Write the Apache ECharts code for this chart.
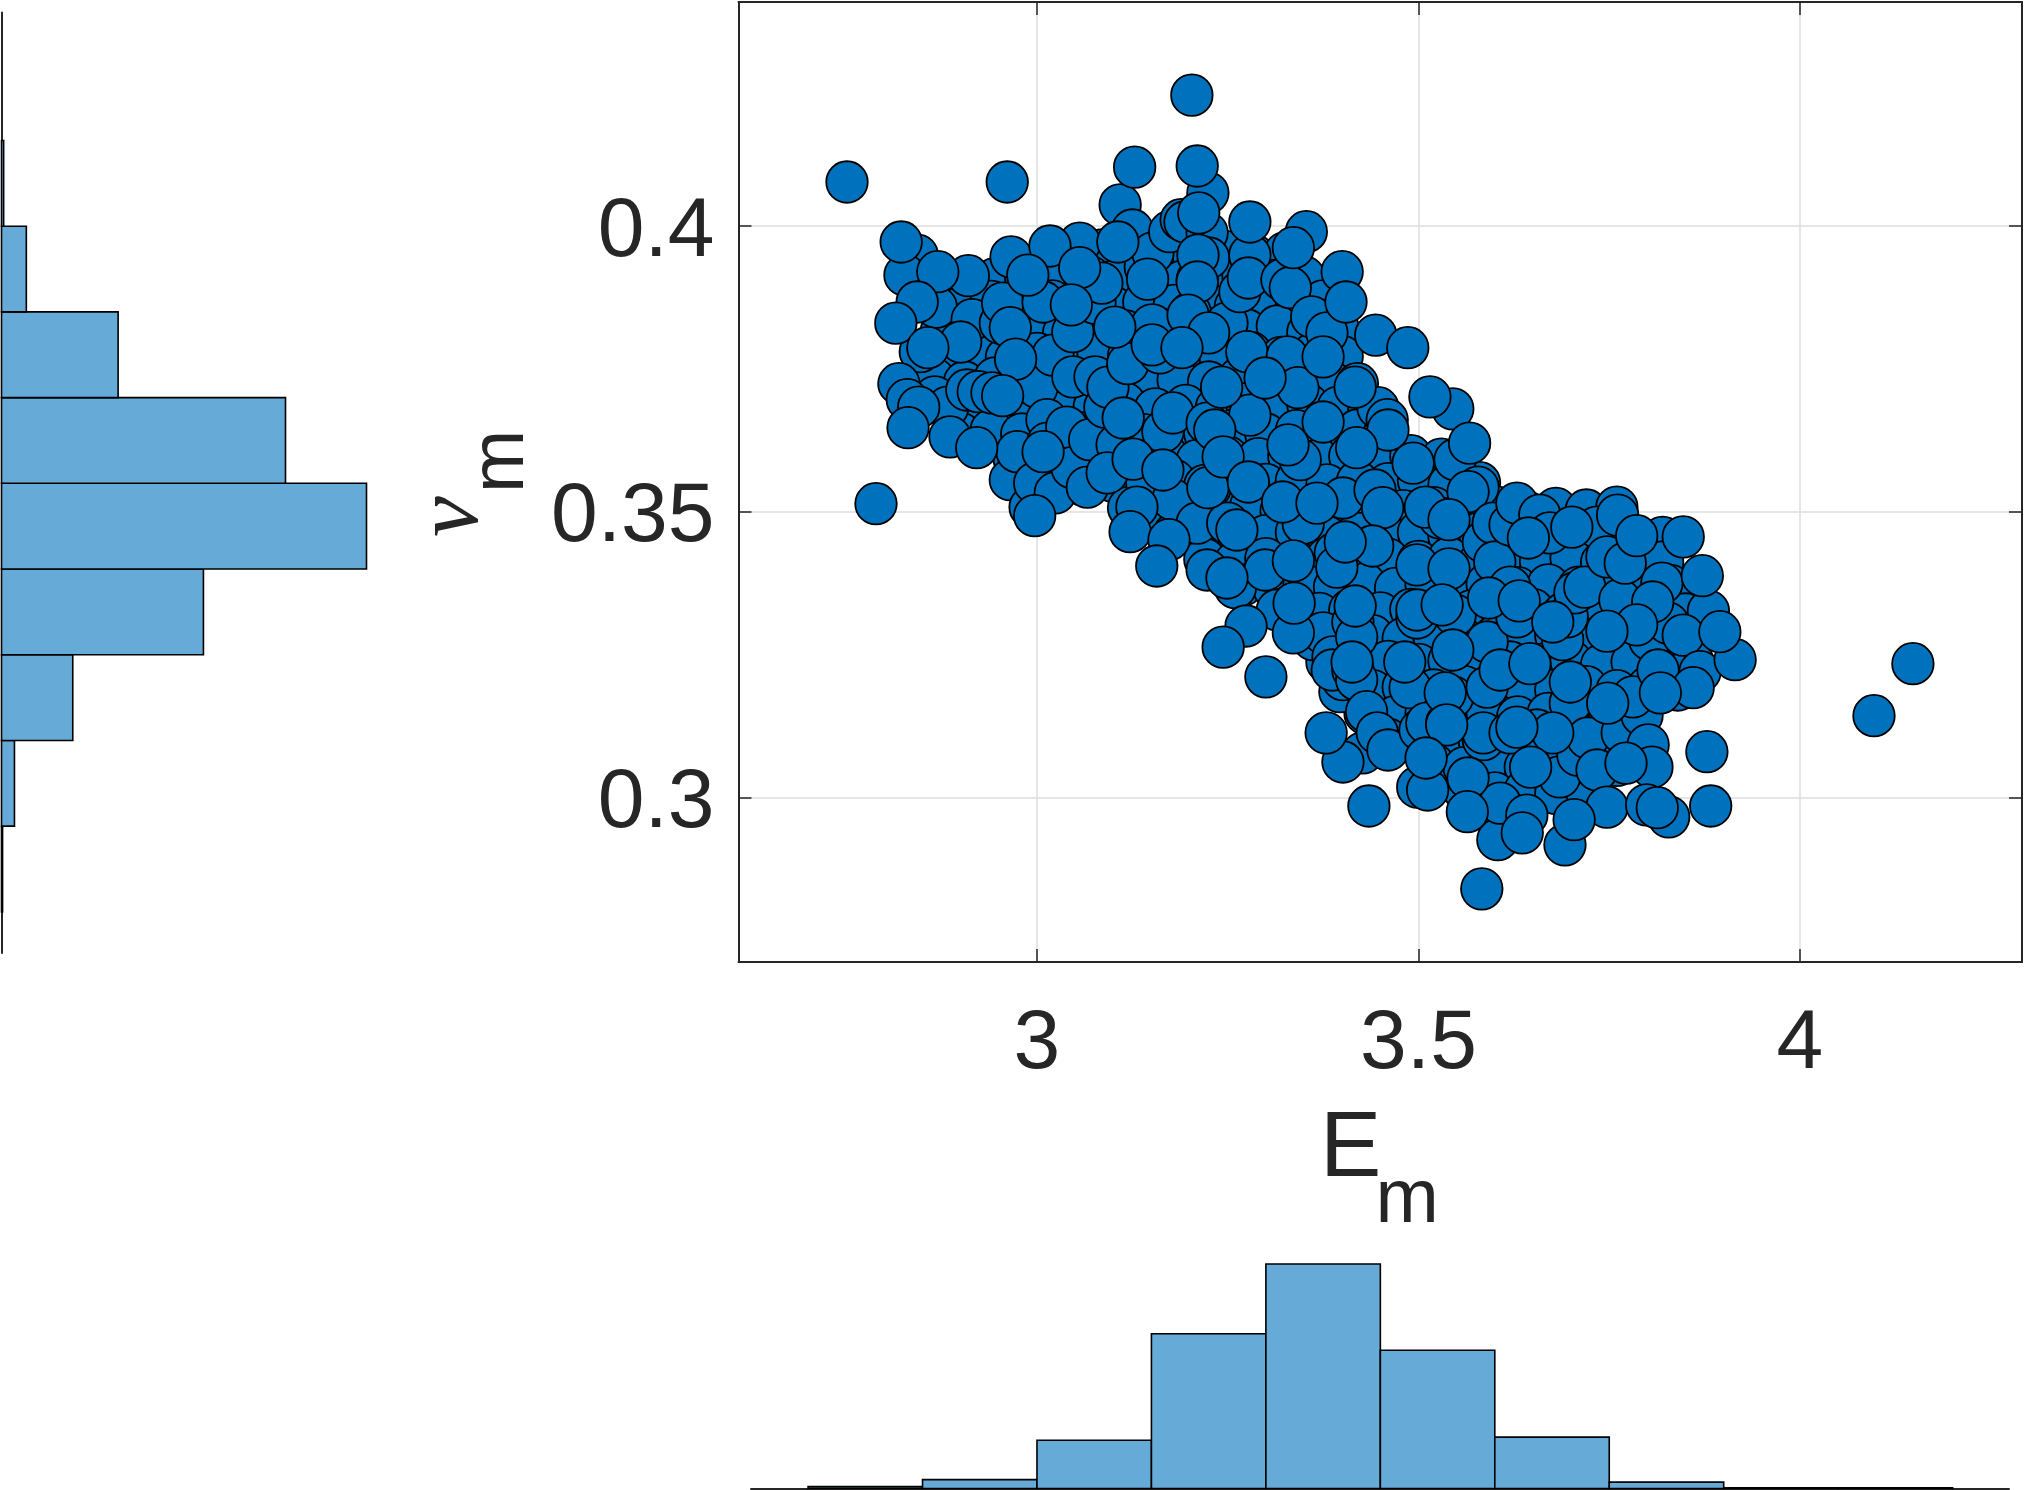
<!DOCTYPE html>
<html><head><meta charset="utf-8">
<style>html,body{margin:0;padding:0;background:#fff}#c{width:2024px;height:1490px}</style>
<script src="https://cdn.jsdelivr.net/npm/echarts@6/dist/echarts.min.js"></script>
</head><body><div id="c"></div>
<script>
var xTicks=[3,3.5,4];
var yTicks=[0.3,0.35,0.4];
// E_m histogram: bin edges and counts
var emEdges=[2.7,2.85,3.0,3.15,3.3,3.45,3.6,3.75,3.9,4.05,4.2];
var emCounts=[3,14,76,244,354,218,81,10,1,1];
// nu_m histogram: bin edges and counts
var nuEdges=[0.28,0.295,0.31,0.325,0.34,0.355,0.37,0.385,0.4,0.415];
var nuCounts=[1,12,66,187,338,263,108,23,2];
// samples buried in the dense core (estimated)
var samplesCore=[
[3.04,.3952],[3.085,.3958],[3.12,.3947],[3.165,.3955],[3.205,.3949],[3.245,.3956],[3.285,.3948],[3.325,.3953],
[2.945,.3908],[2.985,.3912],[3.025,.3904],[3.07,.3911],[3.105,.3906],[3.15,.3913],[3.19,.3903],[3.23,.3909],[3.27,.3914],[3.31,.3905],[3.35,.3911],
[2.905,.3862],[2.94,.3868],[2.98,.3861],[3.02,.3869],[3.06,.3864],[3.10,.3858],[3.14,.3867],[3.18,.3861],[3.22,.3868],[3.26,.3859],[3.30,.3866],[3.34,.3862],[3.375,.3869],
[2.875,.3818],[2.915,.3824],[2.955,.3816],[2.995,.3822],[3.035,.3813],[3.075,.3821],[3.115,.3817],[3.155,.3824],[3.195,.3815],[3.235,.3821],[3.275,.3818],[3.315,.3825],[3.355,.3814],[3.395,.3820],
[2.875,.3772],[2.92,.3778],[2.96,.3770],[3.0,.3777],[3.04,.3771],[3.08,.3779],[3.12,.3773],[3.16,.3769],[3.20,.3777],[3.24,.3772],[3.28,.3779],[3.32,.3770],[3.36,.3775],[3.40,.3772],
[2.865,.3733],[2.905,.3727],[2.945,.3734],[2.985,.3726],[3.025,.3732],[3.065,.3728],[3.105,.3735],[3.145,.3725],[3.185,.3731],[3.225,.3727],[3.265,.3734],[3.305,.3726],[3.345,.3733],[3.385,.3728],[3.42,.3724],
[2.875,.3688],[2.915,.3682],[2.955,.3689],[2.995,.3681],[3.035,.3687],[3.075,.3683],[3.115,.3690],[3.155,.3680],[3.195,.3686],[3.235,.3682],[3.275,.3689],[3.315,.3681],[3.355,.3688],[3.395,.3683],[3.435,.3679],
[2.90,.3637],[2.94,.3643],[2.98,.3636],[3.02,.3644],[3.06,.3638],[3.10,.3642],[3.14,.3635],[3.18,.3641],[3.22,.3637],[3.26,.3644],[3.30,.3636],[3.34,.3642],[3.38,.3638],[3.42,.3643],[3.455,.3636],
[2.97,.3593],[3.01,.3598],[3.05,.3591],[3.09,.3597],[3.13,.3592],[3.17,.3599],[3.21,.3590],[3.25,.3596],[3.29,.3593],[3.33,.3598],[3.37,.3591],[3.41,.3597],[3.45,.3592],[3.49,.3598],[3.53,.3592],
[3.02,.3552],[3.06,.3547],[3.10,.3553],[3.14,.3548],[3.18,.3555],[3.22,.3546],[3.26,.3552],[3.30,.3548],[3.34,.3554],[3.38,.3547],[3.42,.3553],[3.46,.3549],[3.50,.3555],[3.54,.3547],[3.58,.3551],
[3.12,.3507],[3.16,.3502],[3.20,.3508],[3.24,.3503],[3.28,.3509],[3.32,.3501],[3.36,.3507],[3.40,.3503],[3.44,.3509],[3.48,.3502],[3.52,.3507],[3.56,.3503],[3.60,.3509],[3.64,.3501],[3.68,.3506],[3.72,.3503],[3.76,.3508],
[3.18,.3462],[3.22,.3457],[3.26,.3463],[3.30,.3458],[3.34,.3464],[3.38,.3456],[3.42,.3462],[3.46,.3458],[3.50,.3464],[3.54,.3457],[3.58,.3463],[3.62,.3458],[3.66,.3464],[3.70,.3456],[3.74,.3462],[3.78,.3458],[3.82,.3455],
[3.22,.3417],[3.26,.3412],[3.30,.3418],[3.34,.3413],[3.38,.3419],[3.42,.3411],[3.46,.3417],[3.50,.3413],[3.54,.3419],[3.58,.3412],[3.62,.3417],[3.66,.3413],[3.70,.3419],[3.74,.3411],[3.78,.3417],[3.82,.3412],
[3.27,.3372],[3.31,.3367],[3.35,.3373],[3.39,.3368],[3.43,.3374],[3.47,.3366],[3.51,.3372],[3.55,.3368],[3.59,.3374],[3.63,.3367],[3.67,.3372],[3.71,.3368],[3.75,.3374],[3.79,.3366],[3.83,.3371],
[3.33,.3327],[3.37,.3322],[3.41,.3328],[3.45,.3323],[3.49,.3329],[3.53,.3321],[3.57,.3327],[3.61,.3323],[3.65,.3329],[3.69,.3322],[3.73,.3327],[3.77,.3323],[3.81,.3329],[3.85,.3321],[3.88,.3326],
[3.36,.3282],[3.40,.3277],[3.44,.3283],[3.48,.3278],[3.52,.3284],[3.56,.3276],[3.60,.3282],[3.64,.3278],[3.68,.3284],[3.72,.3277],[3.76,.3282],[3.80,.3278],[3.84,.3283],
[3.38,.3237],[3.42,.3232],[3.46,.3238],[3.50,.3233],[3.54,.3239],[3.58,.3231],[3.62,.3237],[3.66,.3233],[3.70,.3239],[3.74,.3232],[3.78,.3237],[3.82,.3233],[3.86,.3236],
[3.40,.3192],[3.44,.3187],[3.48,.3193],[3.52,.3188],[3.56,.3194],[3.60,.3186],[3.64,.3192],[3.68,.3188],[3.72,.3194],[3.76,.3187],[3.80,.3192],[3.84,.3188],
[3.43,.3147],[3.47,.3142],[3.51,.3148],[3.55,.3143],[3.59,.3149],[3.63,.3141],[3.67,.3147],[3.71,.3143],[3.75,.3149],[3.79,.3142],
[3.46,.3102],[3.50,.3097],[3.54,.3103],[3.58,.3098],[3.62,.3104],[3.66,.3096],[3.70,.3102],[3.74,.3098],[3.78,.3104],
[3.52,.3058],[3.56,.3052],[3.60,.3057],[3.64,.3053],[3.68,.3059],[3.72,.3051],[3.76,.3056],
[3.56,.3012],[3.60,.3008],[3.64,.3013],[3.68,.3007],[3.72,.3012]
];
// samples partly hidden by others
var samplesBehind=[
[2.843,.3949],[2.827,.3914],[2.868,.3858],[2.847,.3780],[2.866,.3701],[2.883,.3683],[2.886,.3631],[2.908,.3713],[2.915,.3836],[2.923,.3710],[2.941,.3708],[2.952,.3830],[2.955,.3865],[2.966,.3946],[2.965,.3556],[2.974,.3605],[2.991,.3508],[2.997,.3550],[3.008,.3867],[3.000,.3718],[3.013,.3661],[3.014,.3620],[3.021,.3774],[3.024,.3533],[3.039,.3648],[3.046,.3577],[3.047,.3815],[3.047,.3736],[3.056,.3970],[3.066,.3543],[3.069,.3626],[3.076,.3865],[3.076,.3736],[3.085,.3900],[3.089,.3683],[3.093,.3718],[3.105,.3617],[3.109,.4037],[3.125,.3993],[3.119,.3759],[3.142,.3928],[3.144,.3550],[3.152,.3953],[3.152,.3626],[3.165,.3640],[3.161,.3778],[3.151,.3827],[3.178,.3673],[3.178,.3521],[3.174,.3990],[3.189,.4011],[3.194,.4007],[3.131,.3508],[3.210,.3480],[3.201,.3848],[3.210,.3906],[3.223,.3988],[3.224,.4058],[3.223,.3655],[3.223,.3398],[3.227,.3542],[3.225,.3944],[3.249,.3830],[3.250,.3480],[3.260,.3367],[3.266,.3885],[3.275,.3780],[3.279,.3949],[3.277,.3909],[3.279,.3669],[3.299,.3398],[3.315,.3328],[3.321,.3906],[3.332,.3892],[3.328,.3771],[3.342,.3717],[3.345,.3591],[3.349,.3480],[3.353,.3990],[3.360,.3841],[3.380,.3813],[3.375,.3771],[3.362,.3276],[3.375,.3288],[3.336,.3288],[3.388,.3246],[3.391,.3428],[3.393,.3403],[3.401,.3524],[3.397,.3185],[3.401,.3206],[3.387,.3223],[3.414,.3223],[3.419,.3206],[3.414,.3307],[3.419,.3281],[3.417,.3335],[3.427,.3078],[3.432,.3150],[3.446,.3113],[3.460,.3083],[3.443,.3538],[3.447,.3682],[3.459,.3661],[3.460,.3643],[3.493,.3585],[3.489,.3192],[3.498,.3314],[3.498,.3328],[3.502,.3118],[3.499,.3018],[3.512,.3013],[3.528,.3489],[3.511,.3130],[3.537,.3130],[3.545,.3176],[3.548,.3319],[3.548,.3591],[3.545,.3680],[3.578,.3543],[3.565,.3535],[3.585,.3447],[3.585,.3101],[3.590,.3272],[3.590,.3193],[3.585,.3113],[3.598,.3480],[3.600,.3412],[3.604,.2926],[3.607,.2990],[3.620,.3477],[3.620,.3368],[3.620,.3113],[3.629,.3515],[3.629,.3316],[3.642,.2969],[3.659,.3494],[3.655,.3118],[3.672,.3463],[3.689,.3276],[3.685,.3036],[3.695,.3316],[3.699,.3165],[3.692,.2917],[3.705,.3358],[3.718,.3368],[3.709,.3074],[3.722,.3104],[3.734,.3473],[3.734,.3048],[3.747,.3421],[3.761,.3494],[3.764,.3346],[3.767,.3113],[3.793,.3144],[3.781,.3176],[3.803,.3276],[3.801,.3092],[3.806,.3053],[3.814,.3223],[3.819,.3375],[3.827,.3305],[3.828,.2966],[3.847,.3284],[3.869,.3220],[3.915,.3241]
];
// samples on top
var samplesFront=[
[2.751,.4077],[2.961,.4077],[3.203,.4229],[3.128,.4103],[3.210,.4105],[3.212,.4023],[2.822,.3972],[3.106,.3972],[3.017,.3965],[2.910,.3913],[2.870,.3920],[2.843,.3867],[2.815,.3830],[2.988,.3914],[3.056,.3927],[3.145,.3907],[3.211,.3949],[3.279,.4007],[3.336,.3962],[3.400,.3920],[3.405,.3867],[3.444,.3809],[3.486,.3787],[3.515,.3701],[3.567,.3620],[3.210,.3902],[3.045,.3862],[3.102,.3823],[3.198,.3844],[3.225,.3813],[3.151,.3792],[3.190,.3787],[2.965,.3822],[2.972,.3767],[2.900,.3797],[2.857,.3787],[2.819,.3724],[2.830,.3696],[2.845,.3683],[2.831,.3647],[2.921,.3612],[2.955,.3703],[2.789,.3514],[3.008,.3605],[2.997,.3493],[3.092,.3568],[3.126,.3592],[3.165,.3573],[3.113,.3664],[3.224,.3542],[3.242,.3718],[3.233,.3643],[3.244,.3596],[3.277,.3552],[3.299,.3734],[3.329,.3617],[3.375,.3657],[3.417,.3718],[3.419,.3612],[3.322,.3517],[3.367,.3515],[3.453,.3507],[3.509,.3508],[3.540,.3486],[3.440,.3440],[3.404,.3447],[3.336,.3414],[3.262,.3468],[3.122,.3465],[3.173,.3451],[3.157,.3405],[3.249,.3384],[3.337,.3340],[3.274,.3300],[3.244,.3263],[3.300,.3211],[3.413,.3237],[3.498,.3407],[3.540,.3400],[3.531,.3337],[3.545,.3258],[3.482,.3237],[3.535,.3183],[3.592,.3349],[3.632,.3344],[3.644,.3454],[3.701,.3473],[3.771,.3410],[3.786,.3458],[3.847,.3456],[3.872,.3388],[3.807,.3342],[3.786,.3302],[3.747,.3291],[3.895,.3290],[3.860,.3192],[3.817,.3183],[3.748,.3165],[3.699,.3202],[3.676,.3307],[3.607,.3223],[3.646,.3234],[3.537,.3127],[3.676,.3113],[3.629,.3123],[3.510,.3069],[3.565,.3034],[3.647,.3053],[3.772,.3060],[3.878,.3080],[3.564,.2975],[3.435,.2985],[3.401,.3062],[3.379,.3113],[3.747,.2983],[3.799,.2987],[3.813,.2982],[3.883,.2985],[3.704,.2961],[3.636,.2938],[3.583,.2840],[4.097,.3143],[4.148,.3234]
];
var allSamples=samplesCore.concat(samplesBehind,samplesFront);

var ink='#262626', barFill='#66AAD7';
function toRows(edges,counts){return counts.map(function(c,i){return [edges[i],edges[i+1],c];});}
function makeRenderer(horizontal){
  return function(params,api){
    var a=api.value(0),b=api.value(1),c=api.value(2);
    var p0=horizontal?api.coord([0,a]):api.coord([a,0]);
    var p1=horizontal?api.coord([c,b]):api.coord([b,c]);
    return {type:'rect',
      shape:{x:Math.min(p0[0],p1[0]),y:Math.min(p0[1],p1[1]),width:Math.abs(p1[0]-p0[0]),height:Math.abs(p1[1]-p0[1])},
      style:{fill:barFill,stroke:'#000',lineWidth:1.6}};
  };
}
var X0=2.6088,X1=4.2910,Y0=0.2712,Y1=0.4392;
var font='"Liberation Sans",Arial,sans-serif';
var serif='"Liberation Serif",serif';
function label(text,x,y,size,family,italic,rot){
  return {type:'text',x:x,y:y,rotation:rot?Math.PI/2:0,z:10,
    style:{text:text,fontFamily:family,fontSize:size,fontStyle:italic?'italic':'normal',fill:ink,align:'left',verticalAlign:'middle'}};
}
var option={
  animation:false,backgroundColor:'#fff',
  grid:[
    {left:738.5,top:2,width:1283.5,height:960},
    {left:751,top:1264,width:1258,height:224.5},
    {left:1.5,top:12.5,width:365,height:940.5}
  ],
  graphic:[
    label('E',1320,1151,92,font,false,false),
    label('m',1375.5,1200.7,76,font,false,false),
    label('ν',453,537,92,serif,true,true),
    label('m',501.7,493,76,font,false,true)
  ],
  xAxis:[
    {type:'value',gridIndex:0,min:X0,max:X1,
     axisLine:{lineStyle:{color:ink,width:2}},
     axisTick:{inside:true,length:13,customValues:xTicks,lineStyle:{color:ink,width:1.5}},
     axisLabel:{customValues:xTicks,fontFamily:font,fontSize:84,color:ink,margin:41},
     splitLine:{show:true,lineStyle:{color:'#dedede',width:1.5}}},
    {type:'value',gridIndex:0,min:X0,max:X1,position:'top',
     axisLine:{lineStyle:{color:ink,width:2}},
     axisTick:{inside:true,length:13,customValues:xTicks,lineStyle:{color:ink,width:1.5}},
     axisLabel:{show:false},splitLine:{show:false}},
    {type:'value',gridIndex:1,min:2.6252,max:4.2739,
     axisLine:{lineStyle:{color:ink,width:2}},axisTick:{show:false},axisLabel:{show:false},splitLine:{show:false}},
    {type:'value',gridIndex:2,min:0,max:338,
     axisLine:{show:false},axisTick:{show:false},axisLabel:{show:false},splitLine:{show:false}}
  ],
  yAxis:[
    {type:'value',gridIndex:0,min:Y0,max:Y1,
     axisLine:{lineStyle:{color:ink,width:2}},
     axisTick:{inside:true,length:13,customValues:yTicks,lineStyle:{color:ink,width:1.5}},
     axisLabel:{customValues:yTicks,fontFamily:font,fontSize:84,color:ink,margin:24,verticalAlign:'top',lineHeight:13},
     splitLine:{show:true,lineStyle:{color:'#dedede',width:1.5}}},
    {type:'value',gridIndex:0,min:Y0,max:Y1,position:'right',
     axisLine:{lineStyle:{color:ink,width:2}},
     axisTick:{inside:true,length:13,customValues:yTicks,lineStyle:{color:ink,width:1.5}},
     axisLabel:{show:false},splitLine:{show:false}},
    {type:'value',gridIndex:1,min:0,max:354,
     axisLine:{show:false},axisTick:{show:false},axisLabel:{show:false},splitLine:{show:false}},
    {type:'value',gridIndex:2,min:0.2728,max:0.4374,
     axisLine:{lineStyle:{color:ink,width:2}},axisTick:{show:false},axisLabel:{show:false},splitLine:{show:false}}
  ],
  series:[
    {type:'scatter',xAxisIndex:0,yAxisIndex:0,data:allSamples,symbol:'circle',symbolSize:41.5,
     itemStyle:{color:'#0072BD',opacity:1,borderColor:'#000',borderWidth:1.8}},
    {type:'custom',xAxisIndex:2,yAxisIndex:2,data:toRows(emEdges,emCounts),encode:{x:[0,1],y:2},renderItem:makeRenderer(false)},
    {type:'custom',xAxisIndex:3,yAxisIndex:3,data:toRows(nuEdges,nuCounts),encode:{x:2,y:[0,1]},renderItem:makeRenderer(true)}
  ]
};
echarts.init(document.getElementById('c')).setOption(option);
</script></body></html>
